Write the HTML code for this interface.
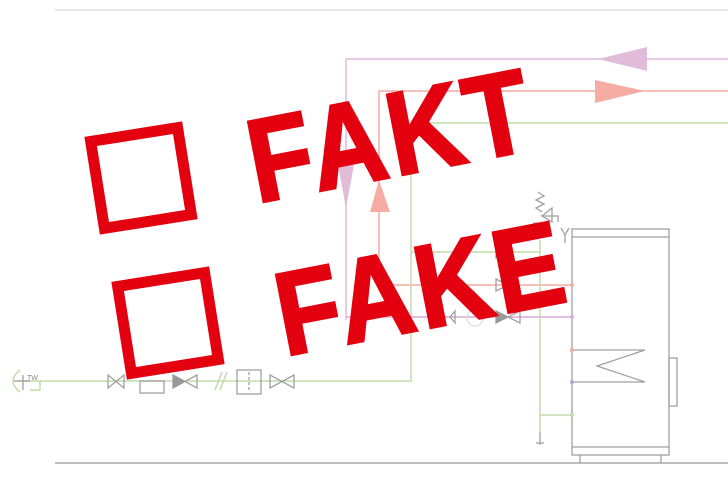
<!DOCTYPE html>
<html><head><meta charset="utf-8"><style>html,body{margin:0;padding:0;background:#fff}svg{display:block}</style></head>
<body>
<svg width="728" height="490" viewBox="0 0 728 490" xmlns="http://www.w3.org/2000/svg">
<g fill="none" stroke-width="1.5">
<line x1="55" y1="10" x2="728" y2="10" stroke="#e0e0e0"/>
<line x1="55" y1="463" x2="728" y2="463" stroke="#a8a8a8"/>
<polyline points="728,59 346,59 346,320" stroke="#e0b8dc"/>
<line x1="346" y1="317" x2="572" y2="317" stroke="#d8a8d8"/>
<polyline points="728,91 379,91 379,285" stroke="#f4aaa0"/>
<line x1="379" y1="285" x2="572" y2="285" stroke="#f4aaa0"/>
<polyline points="728,123 411,123 411,381 40,381" stroke="#c0dca8"/>
<line x1="411" y1="252" x2="540" y2="252" stroke="#c0dca8"/>
<line x1="540" y1="240" x2="540" y2="432" stroke="#c0dca8"/>
<line x1="540" y1="415" x2="572" y2="415" stroke="#c0dca8"/>
<path d="M20,370 Q6,381 20,392" stroke="#c0dca8"/>
<path d="M18,381 H40 V390 H30" stroke="#c0dca8"/>
<line x1="215" y1="390" x2="222" y2="372" stroke="#c0dca8"/>
<line x1="220" y1="390" x2="227" y2="372" stroke="#c0dca8"/>
</g>
<polygon points="598,59 647,47 647,71" fill="#e0bcd8"/>
<polygon points="645,91 595,80 595,103" fill="#f6aca2"/>
<polygon points="346,208 338,165 354,165" fill="#e0bcd8"/>
<polygon points="379,180 370,212 390,212" fill="#f6aca2"/>
<g fill="none" stroke="#a0a0a0" stroke-width="1.3">
<rect x="572" y="229" width="97" height="226"/>
<line x1="572" y1="237" x2="669" y2="237"/>
<line x1="572" y1="447" x2="669" y2="447"/>
<line x1="580" y1="455" x2="580" y2="463"/><line x1="661" y1="455" x2="661" y2="463"/>
<rect x="669" y="358" width="8" height="48"/>
<polyline points="572,350 645,350 597,366 645,382 572,382"/>
<line x1="540" y1="432" x2="540" y2="445"/><line x1="536" y1="443" x2="544" y2="443"/>
<polyline points="538,192 544,196 536,200 544,204 536,208 542,212"/>
<polyline points="542,216 552,208 552,222 542,216 558,216 558,222"/>
<line x1="533" y1="224" x2="550" y2="224" stroke-width="3"/>
<polyline points="561,228 565,235 569,228"/><line x1="565" y1="235" x2="565" y2="243"/>
<polygon points="496,246 508,252 496,258"/>
<polygon points="496,279 508,285 496,291"/>
<polygon points="496,311 508,317 496,323 496,311 520,323 520,311 508,317"/>
<polygon points="455,311 450,317 455,323"/>
<circle cx="475" cy="318" r="8" stroke="#ddd"/>
<polygon points="108,375 124,388 124,375 108,388"/>
<rect x="140" y="381" width="24" height="12"/>
<polygon points="173,375 197,388 197,375 173,388"/>
<rect x="237" y="370" width="24" height="24"/><line x1="249" y1="372" x2="249" y2="392" stroke-dasharray="3,2"/>
<polygon points="270,375 294,388 294,375 270,388"/>
<line x1="14" y1="381" x2="30" y2="381"/><line x1="23" y1="375" x2="23" y2="390"/>
</g>
<polygon points="496,246 508,252 496,258" fill="#999"/>
<polygon points="496,311 508,317 496,323" fill="#999"/>
<polygon points="173,375 185,381 173,388" fill="#999"/>
<text x="27" y="380" font-family="Liberation Sans, sans-serif" font-size="7" fill="#888">TW</text>
<g fill="#a8a8d0"><circle cx="572" cy="382" r="2"/></g>
<g fill="#f4aaa0"><circle cx="572" cy="285" r="2"/><circle cx="572" cy="350" r="2"/></g>
<g fill="#d8a8d8"><circle cx="572" cy="317" r="2"/></g>
<g fill="#c0dca8"><circle cx="572" cy="415" r="2"/></g>
<g fill="none" stroke="#e3000f" stroke-width="11">
<rect x="97" y="134" width="88" height="88" transform="rotate(-9 141 178)"/>
<rect x="124" y="279" width="88" height="88" transform="rotate(-9 168 323)"/>
</g>
<g fill="#e3000f" stroke="#e3000f" stroke-width="3" font-family="Liberation Sans, sans-serif" font-weight="bold" font-size="118" letter-spacing="5">
<text transform="translate(257 203) rotate(-11) scale(0.88 1)">FAKT</text>
<text transform="translate(285 356) rotate(-11) scale(0.88 1)">FAKE</text>
</g>
</svg>
</body></html>
